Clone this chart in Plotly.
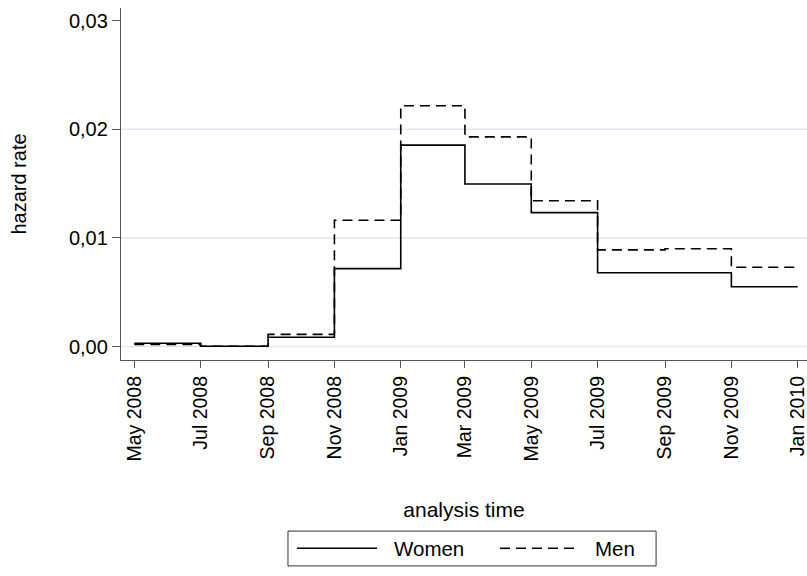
import plotly.graph_objects as go

# ---- data ----
period_start = ["2008-05-01", "2008-07-01", "2008-09-01", "2008-11-01", "2009-01-01",
                "2009-03-01", "2009-05-01", "2009-07-01", "2009-09-01", "2009-11-01"]
period_end = "2010-01-01"
women = [0.0003, 0.00003, 0.00085, 0.00717, 0.01854, 0.01497, 0.01233, 0.0068, 0.0068, 0.0055]
men = [0.0002, 0.00003, 0.00112, 0.01163, 0.02217, 0.0193, 0.01342, 0.0089, 0.0090, 0.0073]

tick_dates = ["2008-05-01", "2008-07-01", "2008-09-01", "2008-11-01", "2009-01-01", "2009-03-01",
              "2009-05-01", "2009-07-01", "2009-09-01", "2009-11-01", "2010-01-01"]
tick_labels = ["May 2008", "Jul 2008", "Sep 2008", "Nov 2008", "Jan 2009", "Mar 2009",
               "May 2009", "Jul 2009", "Sep 2009", "Nov 2009", "Jan 2010"]
y_ticks = [0.0, 0.01, 0.02, 0.03]
grid_values = [0.0, 0.01, 0.02]

FONT = "Liberation Sans, Arial, sans-serif"
AX = "#555555"

fig = go.Figure()
fig.add_trace(go.Scatter(x=period_start + [period_end], y=women + [women[-1]],
                         mode="lines", line=dict(shape="hv", color="black", width=1.6),
                         name="Women", showlegend=False))
fig.add_trace(go.Scatter(x=period_start + [period_end], y=men + [men[-1]],
                         mode="lines", line=dict(shape="hv", color="black", width=1.6, dash="10px,6px"),
                         name="Men", showlegend=False))

shapes = []
for g in grid_values:
    shapes.append(dict(type="line", xref="paper", yref="y", x0=0, x1=1, y0=g, y1=g,
                       line=dict(color="#e3e6f1", width=1.5), layer="below"))

# manual legend (box, samples)
shapes.append(dict(type="rect", xref="paper", yref="paper", x0=0.2434, x1=0.780, y0=-0.585, y1=-0.486,
                   line=dict(color="#333333", width=1), fillcolor="rgba(0,0,0,0)"))
shapes.append(dict(type="line", xref="paper", yref="paper", x0=0.2566, x1=0.3732, y0=-0.535, y1=-0.535,
                   line=dict(color="black", width=1.6)))
shapes.append(dict(type="line", xref="paper", yref="paper", x0=0.5525, x1=0.6691, y0=-0.535, y1=-0.535,
                   line=dict(color="black", width=1.6, dash="10px,6px")))

annotations = [
    dict(text="Women", xref="paper", yref="paper", x=0.395, y=-0.535, xanchor="left", yanchor="middle",
         showarrow=False, font=dict(family=FONT, size=20.5, color="black")),
    dict(text="Men", xref="paper", yref="paper", x=0.688, y=-0.535, xanchor="left", yanchor="middle",
         showarrow=False, font=dict(family=FONT, size=20.5, color="black")),
]

fig.update_layout(
    width=807, height=576,
    margin=dict(l=121, r=0, t=8, b=216),
    paper_bgcolor="white", plot_bgcolor="white",
    separators=", ",
    font=dict(family=FONT, size=19.5, color="black"),
    shapes=shapes, annotations=annotations,
    showlegend=False,
    xaxis=dict(
        type="date",
        range=["2008-04-18 18:30", "2010-01-09 13:00"],
        tickmode="array", tickvals=tick_dates, ticktext=tick_labels,
        tickangle=-90, ticks="outside", ticklen=7, tickcolor=AX, tickwidth=1,
        ticklabeloverflow="allow",
        showline=True, linecolor=AX, linewidth=1.3, showgrid=False, zeroline=False,
        tickfont=dict(family=FONT, size=19.5, color="black"),
        title=dict(text="analysis time", standoff=41, font=dict(family=FONT, size=21, color="black")),
    ),
    yaxis=dict(
        range=[-0.00124, 0.03117],
        tickmode="array", tickvals=y_ticks, tickformat=".2f",
        ticks="outside", ticklen=8, tickcolor=AX, tickwidth=1,
        showline=True, linecolor=AX, linewidth=1.3, showgrid=False, zeroline=False,
        tickfont=dict(family=FONT, size=20, color="black"),
        title=dict(text="hazard rate", standoff=36, font=dict(family=FONT, size=20, color="black")),
    ),
)

fig.write_html("out.html")
